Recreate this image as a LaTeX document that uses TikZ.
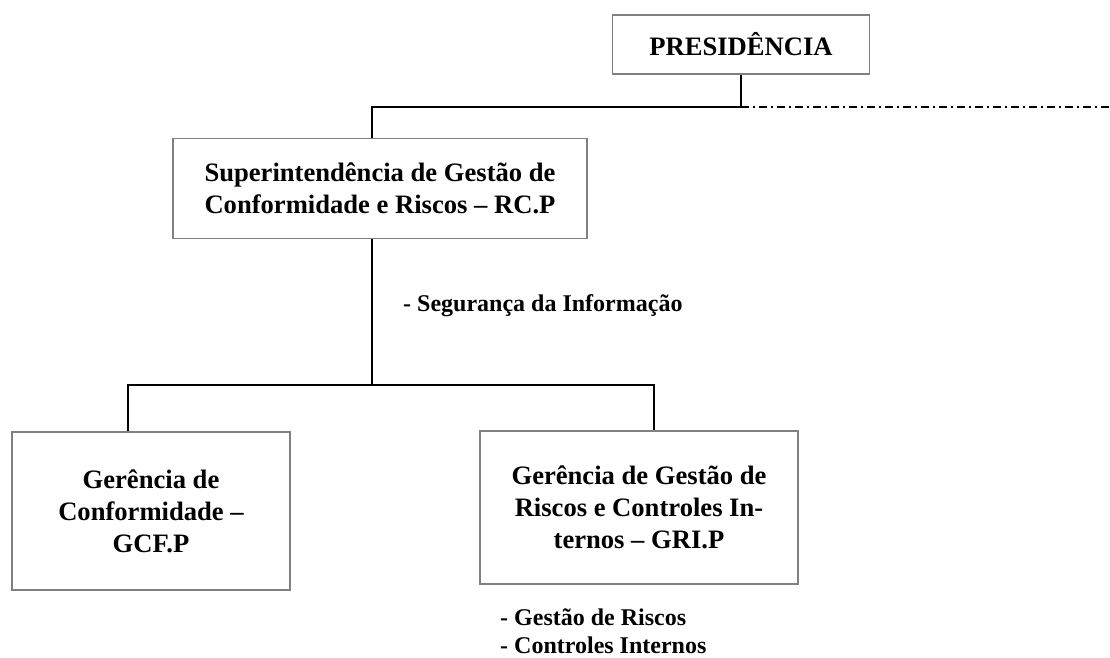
\documentclass[tikz,border=0pt]{standalone}
\usepackage{fontspec}
\setmainfont{Liberation Serif}
\definecolor{boxgray}{RGB}{128,128,128}
\begin{document}
\begin{tikzpicture}[x=1pt,y=-1pt,
  box/.style={draw=boxgray, line width=1.2pt, fill=white, align=center, inner sep=0pt,
    font=\fontsize{26.6}{32}\selectfont\bfseries},
  conn/.style={draw=black, line width=2pt},
  dashdotline/.style={draw=black, line width=1.6pt, dash pattern=on 8pt off 4pt on 2pt off 4pt},
  note/.style={anchor=base west, inner sep=0pt, font=\fontsize{24}{28}\selectfont\bfseries}]
\useasboundingbox (0,0) rectangle (1110,657);

% boxes
\node[box, minimum width=257pt, minimum height=59pt] (pres) at (741,44.5) {PRESIDÊNCIA};
\node[box, minimum width=414pt, minimum height=100pt] (sup) at (380,188.5)
  {Superintendência de Gestão de\\Conformidade e Riscos – RC.P};
\node[box, minimum width=278pt, minimum height=158pt] (gcf) at (151,511)
  {Gerência de\\Conformidade –\\GCF.P};
\node[box, minimum width=318pt, minimum height=153pt] (gri) at (639,507.5)
  {Gerência de Gestão de\\Riscos e Controles In-\\ternos – GRI.P};

% notes
\node[note] (seg) at (403,311) {- Segurança da Informação};
\node[note] (gr1) at (500,625) {- Gestão de Riscos};
\node[note] (gr2) at (500,653) {- Controles Internos};

% junction coordinates
\coordinate (top) at (741,107);
\coordinate (topL) at (372,107);
\coordinate (edge) at (1110,107);
\coordinate (mid) at (372,385);
\coordinate (midL) at (128,385);
\coordinate (midR) at (654,385);

% connectors
\draw[conn] (pres.south) -- (top);
\draw[conn] (top) -- (topL) -- (topL |- sup.north);
\draw[dashdotline] (top) -- (edge);
\draw[conn] (sup.south -| mid) -- (mid);
\draw[conn] (midL |- gcf.north) -- (midL) -- (midR) -- (midR |- gri.north);
\end{tikzpicture}
\end{document}
